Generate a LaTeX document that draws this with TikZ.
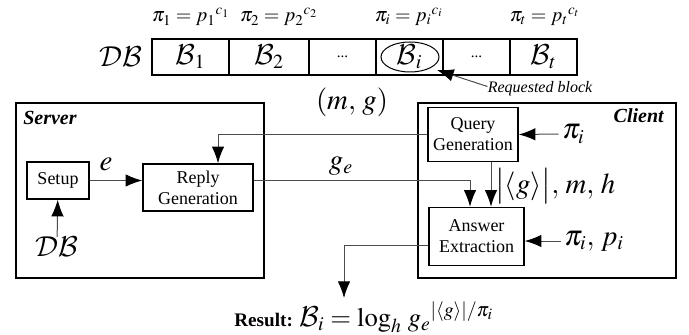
\documentclass[tikz,border=0pt]{standalone}
\usepackage{mathptmx}
\usepackage{amsmath}
\usepackage{fontspec}
\setmainfont{Liberation Serif}
\DeclareMathAlphabet{\mathcal}{OMS}{cmsy}{m}{n}
\usetikzlibrary{arrows.meta,shapes.geometric}

\begin{document}
\begin{tikzpicture}[x=0.6pt,y=0.6pt,>={Latex[black,length=10pt,width=7.5pt]},
    box/.style={draw=black,line width=0.9pt,inner sep=1pt,align=center,font=\fontsize{10.8}{12.5}\selectfont},
    cell/.style={draw=black,line width=0.7pt,minimum height=21.6pt,inner sep=0pt,font=\LARGE},
    panel/.style={draw=black,line width=1pt},
    conn/.style={draw=black!70,line width=0.6pt,->},
    lbl/.style={inner sep=0pt,font=\LARGE},
    plbl/.style={inner sep=0pt,font=\fontsize{12}{14}\selectfont}]
    \useasboundingbox (0,0) rectangle (689,-335);

    \node[plbl] (p1) at (191,-17) {$\pi_1 = p_1{}^{c_1}$};
    \node[plbl] (p2) at (279,-17) {$\pi_2 = p_2{}^{c_2}$};
    \node[plbl] (pi) at (409,-17) {$\pi_i = p_i{}^{c_i}$};
    \node[plbl] (pt) at (545,-17) {$\pi_t = p_t{}^{c_t}$};

    \node[lbl] (db) at (121,-57) {$\mathcal{DB}$};
    \node[cell,minimum width=46.2pt] (b1) at (190.5,-57) {$\mathcal{B}_1$};
    \node[cell,minimum width=48pt] (b2) at (269,-57) {$\mathcal{B}_2$};
    \node[cell,minimum width=40.2pt,font=\small] (d1) at (342.5,-57) {...};
    \node[cell,minimum width=40.2pt] (bi) at (409.5,-57) {$\mathcal{B}_i$};
    \node[cell,minimum width=40.2pt,font=\small] (d2) at (476.5,-57) {...};
    \node[cell,minimum width=40.2pt] (bt) at (543.5,-57) {$\mathcal{B}_t$};
    \node[draw,ellipse,line width=0.6pt,minimum width=34.8pt,minimum height=18pt,inner sep=0pt] (el) at (410,-57) {};

    \node[inner sep=0pt,font=\itshape\fontsize{9.6}{11}\selectfont] (rb) at (540,-89) {Requested block};
    \coordinate (reqtip) at (437,-70);
    \draw[conn] ([yshift=1.5pt]rb.west) -- (reqtip);

    \draw[panel] (16,-103) rectangle (264,-278);
    \draw[panel] (418,-103) rectangle (676,-278);
    \node[anchor=west,inner sep=0pt,font=\large\bfseries\itshape] (srv) at (23,-118) {Server};
    \node[anchor=east,inner sep=0pt,font=\large\bfseries\itshape] (cli) at (664,-116) {Client};

    \node[box,minimum width=37.2pt,minimum height=22.2pt] (su) at (58,-180.5) {Setup};
    \node[box,minimum width=66pt,minimum height=28.2pt] (rg) at (198,-187.5) {Reply\\Generation};
    \node[box,minimum width=54pt,minimum height=32.4pt] (qg) at (473,-134.5) {Query\\Generation};
    \node[box,minimum width=57pt,minimum height=34.8pt] (ae) at (476.5,-236.5) {Answer\\Extraction};

    \node[lbl] (db2) at (57,-247) {$\mathcal{DB}$};
    \node[lbl] (e) at (106,-164) {$e$};
    \node[lbl] (mg) at (352,-102) {$(m,\,g)$};
    \node[lbl] (ge) at (341,-166) {$g_e$};
    \node[lbl,anchor=west] (in1) at (562,-134) {$\pi_i$};
    \node[lbl,anchor=west] (gmh) at (495,-186) {$\big|\langle g\rangle\big|,\,m,\,h$};
    \node[lbl,anchor=west] (in2) at (564,-241) {$\pi_i,\,p_i$};
    \node[inner sep=0pt,anchor=base] (res) at (364,-326)
        {\fontsize{11.5}{12}\selectfont\bfseries Result: {\fontsize{16}{18}\selectfont\mdseries$\mathcal{B}_i = \log_h\, g_e{}^{|\langle g\rangle|/\pi_i}$}};

    \coordinate (gx) at (470,0);
    \coordinate (qa) at (491,0);
    \coordinate (mx) at (218,0);
    \coordinate (restip) at (344,-298);

    \draw[conn] (db2) -- (su);
    \draw[conn] (su.east) -- (su.east -| rg.west);
    \draw[conn] (qg.west) -| (rg.north -| mx);
    \draw[conn] (su.east -| rg.east) -| (ae.north -| gx);
    \draw[conn] (qg.south -| qa) -- (ae.north -| qa);
    \draw[conn] ([xshift=-2pt]in1.west) -- (qg.east);
    \draw[conn] ([xshift=-2pt]in2.west) -- (ae.east |- in2.west);
    \draw[conn] ([yshift=-5.4pt]ae.west) -| (restip);
\end{tikzpicture}
\end{document}
